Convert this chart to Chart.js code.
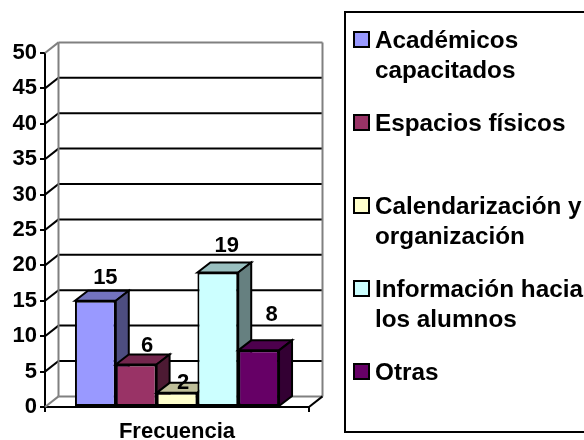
<!DOCTYPE html>
<html>
<head>
<meta charset="utf-8">
<script src="https://cdn.jsdelivr.net/npm/chart.js@4"></script>
<style>
  html, body { margin: 0; padding: 0; background: #fff; overflow: hidden; }
  #wrap { position: relative; width: 584px; height: 440px; }
  #legend {
    position: absolute; left: 344px; top: 11px; width: 240px;
    border: 2px solid #000; border-right: none; padding-top: 12px;
    height: 406px; font: bold 24.3px/29.5px "Liberation Sans", Arial, sans-serif; color: #000;
  }
  .item { position: relative; height: 83px; padding-left: 29px; width: 212px; white-space: normal; }
  .swatch {
    position: absolute; left: 7px; top: 6px; width: 13px; height: 13px;
    border: 2px solid #000;
  }
</style>
</head>
<body>
<div id="wrap">
  <canvas id="myChart" width="584" height="440"></canvas>
  <div id="legend"></div>
</div>
<script>
const categories = ['Frecuencia'];
const seriesNames = ['Académicos capacitados', 'Espacios físicos', 'Calendarización y organización', 'Información hacia los alumnos', 'Otras'];
const seriesValues = [15, 6, 2, 19, 8];
const seriesColors = ['#9999ff', '#993366', '#ffffcc', '#ccffff', '#660066'];
const topColors = ['#7373bf', '#73264d', '#bfbf99', '#99bfbf', '#4d004d'];
const sideColors = ['#4d4d80', '#4d1a33', '#808066', '#668080', '#330033'];
const yTicks = [0, 5, 10, 15, 20, 25, 30, 35, 40, 45, 50];

// hand placed in the original, so nudged per bar
const labelShift = [[10, -23], [11, -19], [6, -10], [9, -27], [13, -35]];

const WALL_DX = 13.5, WALL_DY = 10.6;
const BAR_DX = 13, BAR_DY = 10;

// legend
const legendEl = document.getElementById('legend');
seriesNames.forEach(function (name, i) {
  const item = document.createElement('div');
  item.className = 'item';
  const sw = document.createElement('span');
  sw.className = 'swatch';
  sw.style.background = seriesColors[i];
  item.appendChild(sw);
  item.appendChild(document.createTextNode(name));
  legendEl.appendChild(item);
});

function line(c, x1, y1, x2, y2) {
  c.beginPath();
  c.moveTo(x1, y1);
  c.lineTo(x2, y2);
  c.stroke();
}

function poly(c, pts, fill) {
  c.beginPath();
  c.moveTo(pts[0][0], pts[0][1]);
  for (let i = 1; i < pts.length; i++) c.lineTo(pts[i][0], pts[i][1]);
  c.closePath();
  c.fillStyle = fill;
  c.fill();
  c.stroke();
}

const box3d = {
  id: 'box3d',
  beforeDatasetsDraw(chart) {
    const c = chart.ctx, y = chart.scales.y, a = chart.chartArea;
    const backL = a.left + WALL_DX, backR = a.right + WALL_DX;
    c.save();
    c.lineWidth = 2;
    yTicks.forEach(function (v) {
      const py = y.getPixelForValue(v);
      if (v > 0 && v < 50) {
        c.strokeStyle = '#000';
        line(c, a.left, py, backL, py - WALL_DY);
        line(c, backL, py - WALL_DY, backR, py - WALL_DY);
      }
    });
    // back wall and floor
    c.strokeStyle = '#808080';
    const top = y.getPixelForValue(50), bot = y.getPixelForValue(0);
    line(c, a.left, top, backL, top - WALL_DY);
    line(c, backL, top - WALL_DY, backR, top - WALL_DY);
    line(c, backL, top - WALL_DY, backL, bot - WALL_DY);
    line(c, backR, top - WALL_DY, backR, bot - WALL_DY);
    line(c, backL, bot - WALL_DY, backR, bot - WALL_DY);
    line(c, a.left, bot, backL, bot - WALL_DY);
    c.strokeStyle = '#000';
    line(c, a.right, bot, backR, bot - WALL_DY);
    c.restore();
  },
  // bars go left to right so each one covers the side of the previous one
  beforeDatasetDraw() {
    return false;
  },
  afterDatasetsDraw(chart) {
    const c = chart.ctx;
    c.save();
    c.lineWidth = 2;
    c.strokeStyle = '#000';
    c.lineJoin = 'miter';
    seriesValues.forEach(function (v, i) {
      const bar = chart.getDatasetMeta(i).data[0];
      const l = bar.x - bar.width / 2, r = bar.x + bar.width / 2;
      poly(c, [[l, bar.y], [l + BAR_DX, bar.y - BAR_DY], [r + BAR_DX, bar.y - BAR_DY], [r, bar.y]], topColors[i]);
      poly(c, [[r, bar.y], [r + BAR_DX, bar.y - BAR_DY], [r + BAR_DX, bar.base - BAR_DY], [r, bar.base]], sideColors[i]);
      bar.draw(c);
    });
    c.fillStyle = '#000';
    c.font = 'bold 22px "Liberation Sans", Arial, sans-serif';
    c.textAlign = 'center';
    c.textBaseline = 'middle';
    seriesValues.forEach(function (v, i) {
      const bar = chart.getDatasetMeta(i).data[0];
      c.fillText(String(v), bar.x + labelShift[i][0], bar.y + labelShift[i][1]);
    });
    c.restore();
  }
};

const ctx = document.getElementById('myChart');

new Chart(ctx, {
  type: 'bar',
  data: {
    labels: categories,
    datasets: seriesNames.map(function (name, i) {
      return {
        label: name,
        data: [seriesValues[i]],
        backgroundColor: seriesColors[i],
        borderColor: '#000',
        borderWidth: 2,
        borderSkipped: false
      };
    })
  },
  options: {
    responsive: false,
    animation: false,
    categoryPercentage: 0.773,
    barPercentage: 1,
    layout: { padding: { top: 53, right: 275, left: 0, bottom: 0 } },
    plugins: {
      legend: { display: false },
      tooltip: { enabled: false }
    },
    scales: {
      x: {
        afterFit(scale) { scale.height = 33; },
        border: { color: '#000', width: 2 },
        grid: { drawOnChartArea: false, color: '#000', lineWidth: 2, tickLength: 5 },
        ticks: {
          color: '#000',
          padding: 7,
          font: { family: '"Liberation Sans", Arial, sans-serif', size: 22, weight: 'bold' }
        }
      },
      y: {
        min: 0,
        max: 50,
        afterFit(scale) { scale.width = 45; },
        afterBuildTicks(scale) {
          scale.ticks = yTicks.map(function (v) { return { value: v }; });
        },
        border: { color: '#000', width: 2 },
        grid: { drawOnChartArea: false, color: '#000', lineWidth: 2, tickLength: 5 },
        ticks: {
          color: '#000',
          padding: 3,
          font: { family: '"Liberation Sans", Arial, sans-serif', size: 22, weight: 'bold' }
        }
      }
    }
  },
  plugins: [box3d]
});
</script>
</body>
</html>
